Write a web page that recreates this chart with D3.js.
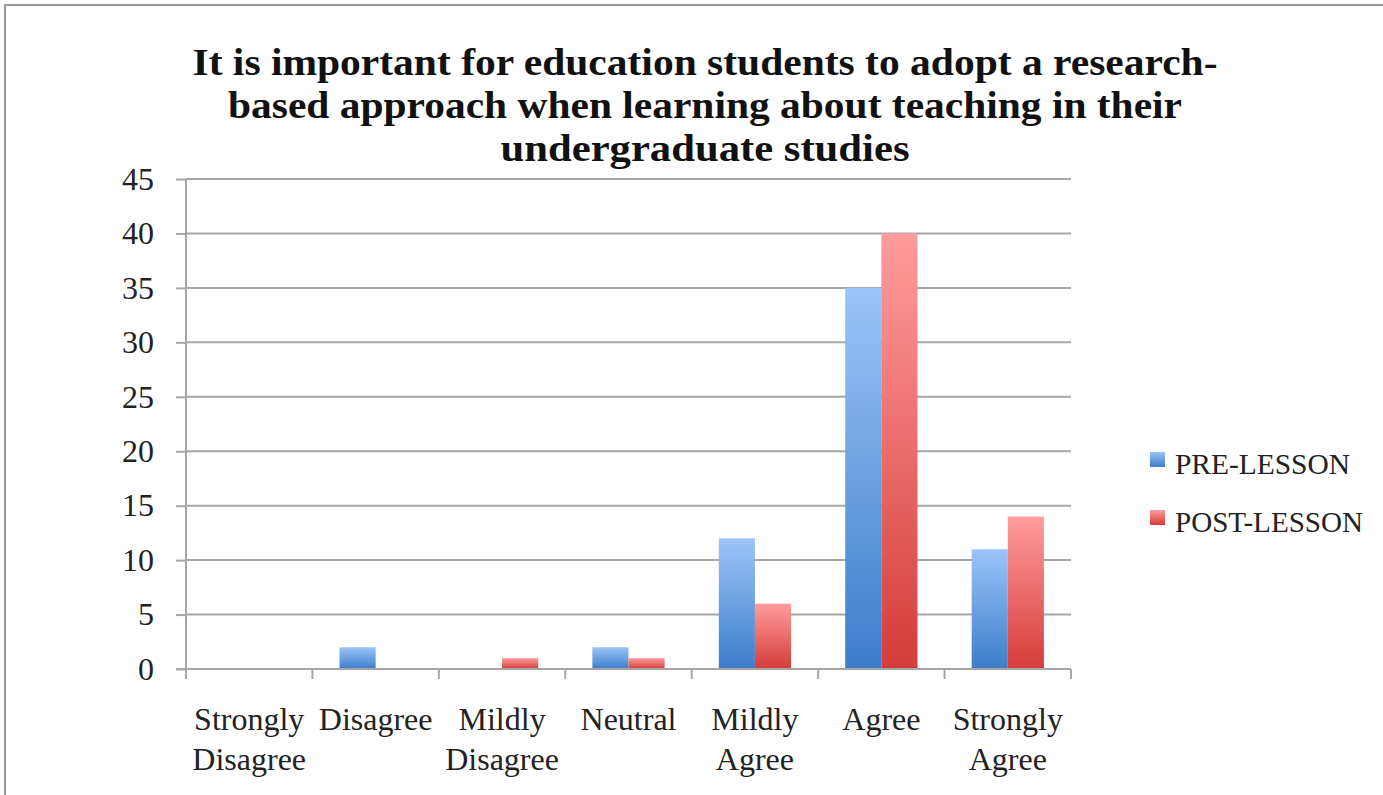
<!DOCTYPE html>
<html>
<head>
<meta charset="utf-8">
<script src="https://cdn.jsdelivr.net/npm/d3@7"></script>
<style>
  body { margin: 0; background: #fff; }
</style>
</head>
<body>
<div id="chart"></div>
<script>
const categories = [
    ["Strongly", "Disagree"], ["Disagree"], ["Mildly", "Disagree"], ["Neutral"],
    ["Mildly", "Agree"], ["Agree"], ["Strongly", "Agree"]
];
const seriesNames = ["PRE-LESSON", "POST-LESSON"];
const preLesson = [0, 2, 0, 2, 12, 35, 11];
const postLesson = [0, 0, 1, 1, 6, 40, 14];
const yTicks = [0, 5, 10, 15, 20, 25, 30, 35, 40, 45];
const titleLines = [
    "It is important for education students to adopt a research-",
    "based approach when learning about teaching in their",
    "undergraduate studies"
];

const width = 1383;
const height = 795;
const margin = { top: 179, right: 312, bottom: 126, left: 186 };
const serif = "'Liberation Serif', serif";
const gridColor = "#a6a6a6";

const svg = d3.select("#chart")
    .append("svg")
    .attr("width", width)
    .attr("height", height);

// gradients
const defs = svg.append("defs");
const gradients = [
    { id: "gradPre", top: "#9cc4f8", bottom: "#3b7dca" },
    { id: "gradPost", top: "#ff9c9c", bottom: "#d43c39" }
];
gradients.forEach((g) => {
    const lg = defs.append("linearGradient")
        .attr("id", g.id)
        .attr("x1", 0).attr("y1", 0)
        .attr("x2", 0).attr("y2", 1);
    lg.append("stop").attr("offset", "0%").attr("stop-color", g.top);
    lg.append("stop").attr("offset", "100%").attr("stop-color", g.bottom);
});

// frame
svg.append("rect")
    .attr("x", 5)
    .attr("y", 5)
    .attr("width", width + 20)
    .attr("height", height + 20)
    .attr("fill", "none")
    .attr("stroke", "#9a9a9a")
    .attr("stroke-width", 2);

const x = d3.scaleBand()
    .domain(d3.range(categories.length))
    .range([margin.left, width - margin.right]);

const x1 = d3.scaleBand()
    .domain(seriesNames)
    .range([0, x.bandwidth()])
    .paddingInner(0)
    .paddingOuter(0.75);

const y = d3.scaleLinear()
    .domain([0, 45])
    .range([height - margin.bottom, margin.top]);

// gridlines
svg.append("g")
    .selectAll("line")
    .data(yTicks.filter((t) => t > 0))
    .enter()
    .append("line")
    .attr("x1", margin.left)
    .attr("x2", width - margin.right)
    .attr("y1", (d) => y(d))
    .attr("y2", (d) => y(d))
    .attr("stroke", gridColor)
    .attr("stroke-width", 2);

// bars
const data = categories.map((c, i) => ({ i: i, values: [preLesson[i], postLesson[i]] }));

const groups = svg.append("g")
    .selectAll("g")
    .data(data)
    .enter()
    .append("g")
    .attr("transform", (d) => `translate(${x(d.i)},0)`);

groups.selectAll("rect")
    .data((d) => d.values.map((v, k) => ({ key: seriesNames[k], value: v, k: k })))
    .enter()
    .filter((d) => d.value > 0)
    .append("rect")
    .attr("x", (d) => x1(d.key))
    .attr("y", (d) => y(d.value))
    .attr("width", x1.bandwidth())
    .attr("height", (d) => y(0) - y(d.value))
    .attr("fill", (d) => `url(#${gradients[d.k].id})`);

// y axis
const yAxis = svg.append("g")
    .attr("transform", `translate(${margin.left},0)`)
    .call(d3.axisLeft(y).tickValues(yTicks).tickSize(10).tickPadding(22));
yAxis.select(".domain").attr("stroke", gridColor).attr("stroke-width", 2)
    .attr("d", `M0,${y(45)}V${y(0) + 9}`);
yAxis.selectAll(".tick line").attr("stroke", gridColor).attr("stroke-width", 2);
yAxis.selectAll(".tick text")
    .attr("fill", "#222")
    .style("font-family", serif)
    .style("font-size", "32px");

// x axis
const xAxisG = svg.append("g")
    .attr("transform", `translate(0,${y(0)})`);
xAxisG.append("line")
    .attr("x1", margin.left - 10)
    .attr("x2", width - margin.right)
    .attr("stroke", gridColor)
    .attr("stroke-width", 2);
xAxisG.selectAll(".xtick")
    .data(d3.range(categories.length + 1))
    .enter()
    .append("line")
    .attr("x1", (d) => d < categories.length ? x(d) : x(d - 1) + x.bandwidth())
    .attr("x2", (d) => d < categories.length ? x(d) : x(d - 1) + x.bandwidth())
    .attr("y1", 0)
    .attr("y2", 10)
    .attr("stroke", gridColor)
    .attr("stroke-width", 2);

const xLabels = xAxisG.selectAll(".xlabel")
    .data(categories)
    .enter()
    .append("text")
    .attr("text-anchor", "middle")
    .attr("fill", "#222")
    .style("font-family", serif)
    .style("font-size", "32px");
xLabels.selectAll("tspan")
    .data((d, i) => d.map((w) => ({ w: w, i: i })))
    .enter()
    .append("tspan")
    .attr("x", (d) => x(d.i) + x.bandwidth() / 2)
    .attr("y", (d, j) => 61 + j * 40)
    .text((d) => d.w);

// title
svg.append("g")
    .selectAll("text")
    .data(titleLines)
    .enter()
    .append("text")
    .attr("x", 705)
    .attr("y", (d, i) => 75 + i * 43)
    .attr("text-anchor", "middle")
    .attr("fill", "#111")
    .style("font-family", serif)
    .style("font-weight", "bold")
    .style("font-size", "38px")
    .attr("textLength", (d, i) => [1025, 954, 409][i])
    .attr("lengthAdjust", "spacingAndGlyphs")
    .text((d) => d);

// legend
const legend = svg.append("g")
    .attr("transform", "translate(1150,452)");
legend.selectAll("rect")
    .data(seriesNames)
    .enter()
    .append("rect")
    .attr("x", 0)
    .attr("y", (d, i) => i * 58)
    .attr("width", 15)
    .attr("height", 15)
    .attr("fill", (d, i) => `url(#${gradients[i].id})`);
legend.selectAll("text")
    .data(seriesNames)
    .enter()
    .append("text")
    .attr("x", 25)
    .attr("y", (d, i) => 22 + i * 58)
    .attr("fill", "#222")
    .style("font-family", serif)
    .style("font-size", "30px")
    .attr("textLength", (d, i) => [175, 188][i])
    .attr("lengthAdjust", "spacingAndGlyphs")
    .text((d) => d);
</script>
</body>
</html>
